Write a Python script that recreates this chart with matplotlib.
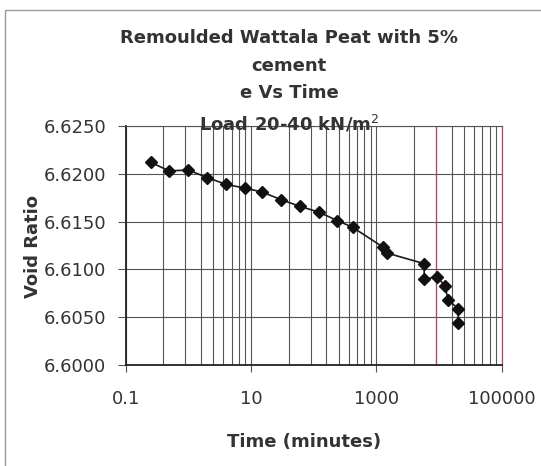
import matplotlib
matplotlib.use("Agg")
from matplotlib import pyplot as plt
from matplotlib.ticker import FixedLocator, FuncFormatter, NullFormatter
from matplotlib.patches import Rectangle

# time (minutes) and void ratio
time_min = [0.25, 0.5, 1, 2, 4, 8, 15, 30, 60, 120, 240, 420,
            1300, 1500, 5800, 5800, 9400, 12400, 14000, 20300, 20300]
void_ratio = [6.6212, 6.6203, 6.6204, 6.6196, 6.6189, 6.6185, 6.6181, 6.6173,
              6.6166, 6.6160, 6.6151, 6.6144, 6.6123, 6.6117, 6.6106, 6.6090,
              6.6092, 6.6083, 6.6068, 6.6059, 6.6044]

x_ticks = [0.1, 10, 1000, 100000]
y_ticks = [6.6000, 6.6050, 6.6100, 6.6150, 6.6200, 6.6250]

title_lines = ["Remoulded Wattala Peat with 5%", "cement", "e Vs Time",
               "Load 20-40 kN/m$^{2}$"]

plt.rcParams["font.family"] = ["DejaVu Sans"]
text_col = "#333333"
grid_col = "#555555"

fig = plt.figure(figsize=(5.41, 4.66), dpi=100)
fig.patches.append(Rectangle((5 / 541, -0.1), 1.1, 1.1 - 10 / 466, transform=fig.transFigure,
                             fill=False, edgecolor="#9a9a9a", linewidth=1.0))

ax = fig.add_axes([0.2323, 0.2167, 0.695, 0.5129])
ax.set_xscale("log")
ax.set_xlim(0.1, 100000)
ax.set_ylim(6.6, 6.625)

# excel style log axis: major unit of 100, minor lines at major * k^2
minor_x = [m * k * k for m in x_ticks[:-1] for k in range(2, 10)]
ax.xaxis.set_major_locator(FixedLocator(x_ticks))
ax.xaxis.set_major_formatter(FuncFormatter(lambda v, p: "%g" % v))
ax.xaxis.set_minor_locator(FixedLocator(minor_x))
ax.xaxis.set_minor_formatter(NullFormatter())
ax.yaxis.set_major_locator(FixedLocator(y_ticks))
ax.yaxis.set_major_formatter(FuncFormatter(lambda v, p: "%.4f" % v))

ax.grid(True, which="major", axis="both", color=grid_col, linewidth=0.8)
ax.grid(True, which="minor", axis="x", color=grid_col, linewidth=0.8)
ax.axvline(9000, color="#b04a5a", linewidth=0.9)

ax.tick_params(axis="x", which="major", length=5, width=0.8, pad=13,
               labelsize=13, labelcolor=text_col, color=grid_col)
ax.tick_params(axis="x", which="minor", length=0)
ax.tick_params(axis="y", length=6, width=0.8, pad=8,
               labelsize=13, labelcolor=text_col, color=grid_col)

for side in ["left", "bottom"]:
    ax.spines[side].set_color("#222222")
    ax.spines[side].set_linewidth(1.3)
ax.spines["top"].set_color(grid_col)
ax.spines["top"].set_linewidth(0.8)
ax.spines["right"].set_color("#b04a5a")
ax.spines["right"].set_linewidth(0.9)

ax.plot(time_min, void_ratio, color="#1a1a1a", linewidth=1.2, marker="D",
        markersize=6.5, markerfacecolor="#111111", markeredgecolor="#111111", zorder=5)

title_y = [0.9071, 0.8483, 0.789, 0.721]
for line, yy in zip(title_lines, title_y):
    fig.text(0.534, yy, line, ha="center", va="baseline", fontsize=13,
             fontweight="bold", color=text_col)

fig.text(0.562, 0.0414, "Time (minutes)", ha="center", va="baseline",
         fontsize=13, fontweight="bold", color=text_col)
fig.text(0.061, 0.472, "Void Ratio", ha="center", va="center", rotation=90,
         fontsize=13, fontweight="bold", color=text_col)

fig.savefig("out.png", dpi=100)
